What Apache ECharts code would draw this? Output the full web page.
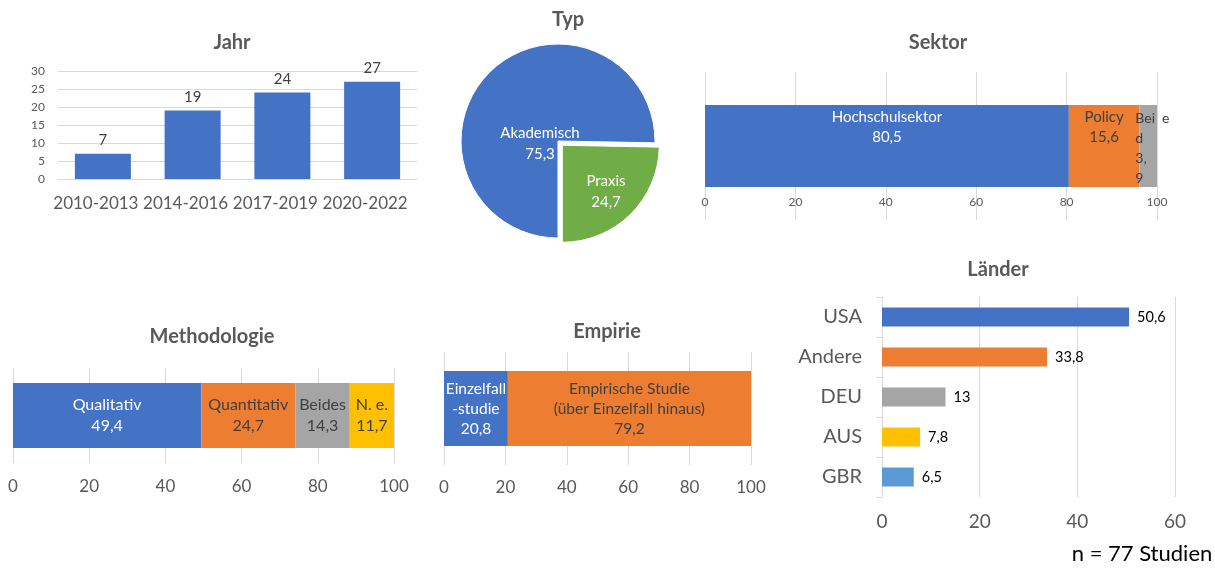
<!DOCTYPE html>
<html><head><meta charset="utf-8">
<script src="https://cdn.jsdelivr.net/npm/echarts@6/dist/echarts.min.js"></script>
<style>html,body{margin:0;padding:0;background:#fff}#c{width:1215px;height:568px}</style>
</head><body><div id="c"></div>
<script>
const jahrCats = ['2010-2013', '2014-2016', '2017-2019', '2020-2022'];
const jahrVals = [7, 19, 24, 27];
const typNames = ['Akademisch', 'Praxis'];
const typVals = [75.3, 24.7];
const sektorNames = ['Hochschulsektor', 'Policy', 'Beide'];
const sektorVals = [80.5, 15.6, 3.9];
const methNames = ['Qualitativ', 'Quantitativ', 'Beides', 'N. e.'];
const methVals = [49.4, 24.7, 14.3, 11.7];
const empNames = ['Einzelfall-studie', 'Empirische Studie (über Einzelfall hinaus)'];
const empVals = [20.8, 79.2];
const laenderCats = ['USA', 'Andere', 'DEU', 'AUS', 'GBR'];
const laenderVals = [50.6, 33.8, 13, 7.8, 6.5];

const FONT = 'Lato, "Open Sans", sans-serif';
const C = {blue:'#4472c4', orange:'#ed7d31', gray:'#a5a5a5', yellow:'#ffc000', lblue:'#5b9bd5', green:'#70ad47'};
const fmt = v => String(v).replace('.', ',');
const gridLine = {show:true, lineStyle:{color:'#d9d9d9', width:1}};
const txt = '#595959';
const PIE_C = [558, 141];
const EXPLODE = 4.3;

function title(text, x, y, size) {
  return {text, left:x, top:y, textAlign:'center',
    textStyle:{fontFamily:FONT, fontWeight:'bold', fontSize:size||20, color:txt}};
}

function valueAxis(grid, max, interval, size, margin) {
  return {type:'value', gridIndex:grid, min:0, max:max, interval:interval,
    axisLine:{show:false}, axisTick:{show:false}, splitLine:gridLine,
    axisLabel:{fontFamily:FONT, fontSize:size, color:txt, margin:margin}};
}
function hiddenCat(grid, name) {
  return {type:'category', gridIndex:grid, data:[name], show:false};
}

const sektorColors = [C.blue, C.orange, C.gray];
const methColors = [C.blue, C.orange, C.gray, C.yellow];
const empColors = [C.blue, C.orange];
const typColors = [C.blue, C.green];

const series = [];
// Jahr
series.push({type:'bar', xAxisIndex:0, yAxisIndex:0, data:jahrVals, barWidth:56,
  itemStyle:{color:C.blue},
  label:{show:true, position:'top', distance:6, fontFamily:FONT, fontSize:15, color:'#404040'}});
// Typ pie: one series per slice (the Praxis slice is pulled out)
const pieLabelPos = [[-18, 3], [48, 51]];
typNames.forEach((n, k) => {
  const c = k === 1 ? [PIE_C[0] + EXPLODE, PIE_C[1] + EXPLODE] : PIE_C;
  series.push({type:'pie', name:'Typ' + k, center:c, radius:97, startAngle:270, clockwise:true,
    silent:true, avoidLabelOverlap:false,
    labelLine:{show:false},
    data: typNames.map((nm, j) => ({name:nm, value:typVals[j],
      itemStyle:{color: j === k ? typColors[j] : 'rgba(0,0,0,0)', borderColor: j === k ? '#fff' : 'rgba(0,0,0,0)', borderWidth:1},
      label:{show: j === k}})),
    label:{position:'inside', fontFamily:FONT, fontSize:15, color:'#fff', lineHeight:21,
      formatter: p => p.name + '\n' + fmt(p.value)},
    labelLayout: () => ({x: PIE_C[0] + pieLabelPos[k][0], y: PIE_C[1] + pieLabelPos[k][1],
      align:'center', verticalAlign:'middle'}),
    emphasis:{disabled:true}});
});
// Sektor
sektorNames.forEach((n,i) => {
  let label;
  if (i === 2) {
    label = {show:true, position:'insideTopLeft', distance:3, offset:[-7,0], align:'left',
      fontFamily:FONT, fontSize:14, lineHeight:20, color:'#404040',
      formatter: () => 'Bei\u2002e\nd\n' + fmt(sektorVals[2]).replace(',', ',\n')};
  } else {
    label = {show:true, position:'insideTop', distance:2, fontFamily:FONT, fontSize:15, lineHeight:20,
      color: i === 0 ? '#fff' : '#404040',
      formatter: p => p.seriesName + '\n' + fmt(p.value)};
  }
  series.push({type:'bar', name:n, stack:'s', xAxisIndex:1, yAxisIndex:1, data:[sektorVals[i]],
    barWidth:82, itemStyle:{color:sektorColors[i]}, label});
});
// Methodologie
methNames.forEach((n,i) => {
  series.push({type:'bar', name:n, stack:'m', xAxisIndex:2, yAxisIndex:2, data:[methVals[i]],
    barWidth:65, itemStyle:{color:methColors[i]},
    label:{show:true, position:'inside', fontFamily:FONT, fontSize:16, lineHeight:21,
      color: i === 0 ? '#fff' : '#404040',
      formatter: p => p.seriesName + '\n' + fmt(p.value)}});
});
// Empirie
empNames.forEach((n,i) => {
  series.push({type:'bar', name:n, stack:'e', xAxisIndex:3, yAxisIndex:3, data:[empVals[i]],
    barWidth:75, itemStyle:{color:empColors[i]},
    label:{show:true, position:'inside', fontFamily:FONT, fontSize:15.5, lineHeight:20,
      color: i === 0 ? '#fff' : '#404040',
      formatter: p => (i === 0 ? 'Einzelfall\n-studie' : 'Empirische Studie\n(über Einzelfall hinaus)') + '\n' + fmt(p.value)}});
});
// Länder
const laenderColors = [C.blue, C.orange, C.gray, C.yellow, C.lblue];
series.push({type:'bar', xAxisIndex:4, yAxisIndex:4, barWidth:19,
  data: laenderVals.map((v,i) => ({value:v, itemStyle:{color:laenderColors[i]}})),
  label:{show:true, position:'right', distance:8, fontFamily:FONT, fontSize:14.5, color:'#000',
    formatter: p => fmt(p.value)}});

const option = {
  animation:false,
  backgroundColor:'#fff',
  title:[
    title('Jahr', 227, 28),
    title('Typ', 563, 5),
    title('Sektor', 933, 28),
    title('Methodologie', 207, 322),
    title('Empirie', 602, 317),
    title('Länder', 993, 255),
    {text:'n = 77 Studien', left:1137, top:538, textAlign:'center',
      textStyle:{fontFamily:FONT, fontWeight:'normal', fontSize:22, color:'#000'}}
  ],
  grid:[
    {left:58, top:71, width:359, height:108},
    {left:705, top:72, width:452, height:148},
    {left:13, top:368, width:381, height:95},
    {left:444, top:352, width:307, height:113},
    {left:882, top:297, width:293, height:200}
  ],
  xAxis:[
    {type:'category', gridIndex:0, data:jahrCats,
      axisLine:{show:true, lineStyle:{color:'#d9d9d9'}}, axisTick:{show:false},
      axisLabel:{interval:0, fontFamily:FONT, fontSize:17, color:txt, margin:16, padding:[0,14,0,0]}},
    Object.assign(valueAxis(1, 100, 20, 12, 14), {axisLabel:{inside:true, fontFamily:FONT, fontSize:12, color:txt, margin:12}}),
    valueAxis(2, 100, 20, 17, 15),
    valueAxis(3, 100, 20, 17, 14),
    valueAxis(4, 60, 20, 19, 15)
  ],
  yAxis:[
    {type:'value', gridIndex:0, min:0, max:30, interval:5,
      axisLine:{show:false}, axisTick:{show:false}, splitLine:gridLine,
      axisLabel:{fontFamily:FONT, fontSize:12, color:txt, margin:13}},
    hiddenCat(1, 'Sektor'),
    hiddenCat(2, 'Methodologie'),
    hiddenCat(3, 'Empirie'),
    {type:'category', gridIndex:4, data:laenderCats, inverse:true,
      axisLine:{show:true, lineStyle:{color:'#d9d9d9'}},
      axisTick:{show:true, length:6, lineStyle:{color:'#d9d9d9'}},
      axisLabel:{fontFamily:FONT, fontSize:20, color:txt, margin:20}}
  ],
  series
};
const chart = echarts.init(document.getElementById('c'), null, {renderer:'canvas'});
chart.setOption(option);
</script></body></html>
